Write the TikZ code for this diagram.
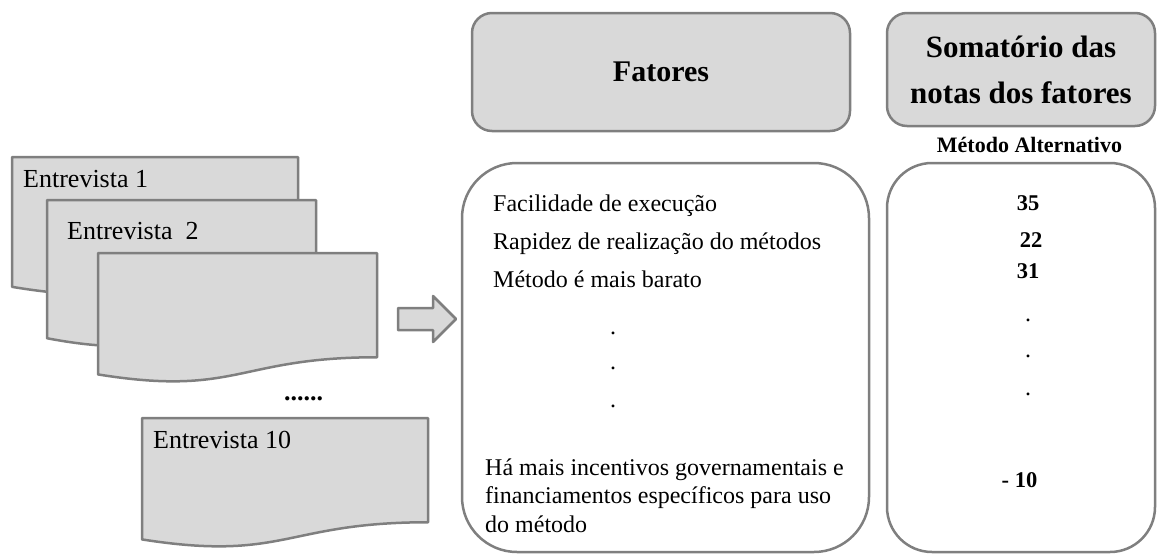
\documentclass[tikz,border=0pt]{standalone}
\usepackage{fontspec}
\setmainfont{Liberation Serif}
\definecolor{docfill}{HTML}{D9D9D9}
\definecolor{docline}{HTML}{7F7F7F}
\tikzset{
  docshape/.style={fill=docfill, draw=docline, line width=2.5pt, line join=round},
  titlebox/.style={draw=docline, fill=docfill, line width=2.5pt, rounded corners=20pt, inner sep=0pt, align=center},
  bigbox/.style={draw=docline, fill=white, line width=2.5pt, inner sep=0pt},
  bodytxt/.style={inner sep=0pt, anchor=base west, font=\fontsize{24}{29}\selectfont},
  numtxt/.style={inner sep=0pt, anchor=base, font=\fontsize{22.5}{27}\selectfont\bfseries},
  dottxt/.style={inner sep=0pt, anchor=base, font=\fontsize{24}{29}\selectfont},
  doctxt/.style={inner sep=0pt, anchor=base west, font=\fontsize{26}{31}\selectfont},
}
\newcommand{\docpath}[4]{%
  \path[docshape] (#1,#2) -- (#1+#3,#2) -- (#1+#3,#2+0.802*#4)
   .. controls (#1+0.5*#3,#2+0.802*#4) and (#1+0.5*#3,#2+1.107*#4) .. (#1,#2+0.934*#4) -- cycle;}
\begin{document}
\begin{tikzpicture}[x=1pt,y=-1pt]
\useasboundingbox (0,0) rectangle (1157,555);
% documents
\docpath{12}{157}{286}{139}
\docpath{47}{200}{269}{148}
\docpath{98}{253}{279}{130}
\docpath{142}{418}{286}{130}
\node[doctxt] (e1) at (23,187) {Entrevista 1};
\node[doctxt] (e2) at (67,239) {Entrevista\ \ 2};
\node[doctxt, font=\fontsize{26}{31}\selectfont\bfseries] (ed) at (284,400) {......};
\node[doctxt] (e10) at (153,448) {Entrevista 10};
% block arrow
\path[docshape] (398,308) -- (433,308) -- (433,296) -- (456,319) -- (433,342) -- (433,330) -- (398,330) -- cycle;
% title boxes
\node[titlebox, minimum width=378pt, minimum height=118pt, font=\fontsize{30}{36}\selectfont\bfseries] (fat) at (661,72) {Fatores};
\node[titlebox, minimum width=268pt, minimum height=113pt, font=\fontsize{31}{46}\selectfont\bfseries] (som) at (1021,69.5) {Somatório das\\notas dos fatores};
\node[inner sep=0pt, anchor=base, font=\fontsize{22}{26}\selectfont\bfseries] (met) at (1029.5,152) {Método Alternativo};
% big boxes
\node[bigbox, rounded corners=55pt, minimum width=407pt, minimum height=389pt] (lbox) at (665.5,357.5) {};
\node[bigbox, rounded corners=45pt, minimum width=268pt, minimum height=389pt] (rbox) at (1021,357.5) {};
% factor texts
\node[bodytxt] (f1) at (493,211) {Facilidade de execução};
\node[bodytxt] (f2) at (493,249) {Rapidez de realização do métodos};
\node[bodytxt] (f3) at (493,287) {Método é mais barato};
\node[dottxt] (d1) at (613,334) {.};
\node[dottxt] (d2) at (613,369) {.};
\node[dottxt] (d3) at (613,407) {.};
\node[bodytxt] (h1) at (485,475) {Há mais incentivos governamentais e};
\node[bodytxt] (h2) at (485,503) {financiamentos específicos para uso};
\node[bodytxt] (h3) at (485,532) {do método};
% numbers
\node[numtxt] (n1) at (1028,210) {35};
\node[numtxt] (n2) at (1031,247) {22};
\node[numtxt] (n3) at (1028,278) {31};
\node[dottxt] (r1) at (1028,321) {.};
\node[dottxt] (r2) at (1028,357) {.};
\node[dottxt] (r3) at (1028,395) {.};
\node[numtxt] (n4) at (1019.5,487) {- 10};
\end{tikzpicture}
\end{document}
